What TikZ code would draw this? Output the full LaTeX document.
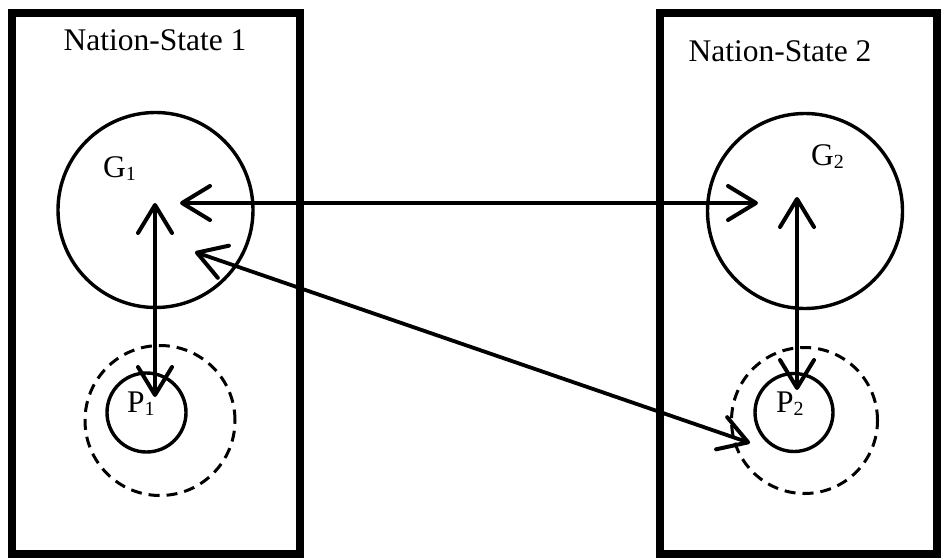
\documentclass[tikz,border=0pt]{standalone}
\usepackage{fontspec}
\setmainfont{Liberation Serif}
\usetikzlibrary{arrows.meta}
\newcommand{\mysub}[1]{\raisebox{-3.5pt}{\fontsize{20}{24}\selectfont #1}}
\tikzset{
  nationbox/.style={draw=black, line width=8pt},
  circ/.style={circle, draw=black, line width=3.4pt, inner sep=0pt},
  dcirc/.style={circle, draw=black, line width=3pt, dash pattern=on 11pt off 7pt, inner sep=0pt},
  lbl/.style={inner sep=0pt, font=\fontsize{31.5}{38}\selectfont},
  biarrow/.style={line width=3.8pt, arrows={Straight Barb[length=28pt,width=34pt,round,line width=4pt]-Straight Barb[length=28pt,width=34pt,round,line width=4pt]}}
}
\begin{document}
\begin{tikzpicture}[x=1pt, y=-1pt]
\useasboundingbox (0,0) rectangle (941,559);
% boxes
\node[nationbox, minimum width=288pt, minimum height=540.5pt, inner sep=0pt] (B1) at (156,283.75) {};
\node[nationbox, minimum width=277pt, minimum height=540.5pt, inner sep=0pt] (B2) at (798.5,283.75) {};
\node[lbl, anchor=base] (T1) at (155,51) {Nation-State 1};
\node[lbl, anchor=base] (T2) at (780,61.5) {Nation-State 2};
% circles
\node[circ, minimum size=195pt] (G1) at (155.5,210) {};
\node[circ, minimum size=195pt] (G2) at (805,211) {};
\node[dcirc, minimum size=150pt] (D1) at (160,420.5) {};
\node[dcirc, minimum size=146pt] (D2) at (804.5,420.5) {};
\node[circ, minimum size=79pt] (P1) at (146.5,412.5) {};
\node[circ, minimum size=78pt] (P2) at (794,412.5) {};
% labels
\node[lbl, anchor=base west] (LG1) at (103,177) {G\mysub{1}};
\node[lbl, anchor=base west] (LG2) at (811,165) {G\mysub{2}};
\node[lbl, anchor=base west] (LP1) at (127,412) {P\mysub{1}};
\node[lbl, anchor=base west] (LP2) at (776,412) {P\mysub{2}};
% arrow end points
\coordinate (g1top) at (155,203);
\coordinate (p1top) at (155,397);
\coordinate (g1h) at (180,203);
\coordinate (g2h) at (758,203);
\coordinate (g2top) at (797,197);
\coordinate (p2top) at (797,390);
\coordinate (g1d) at (195,252);
\coordinate (p2d) at (750,443);
% arrows
\draw[biarrow] (g1top) -- (p1top);
\draw[biarrow] (g1h) -- (g2h);
\draw[biarrow] (g2top) -- (p2top);
\draw[biarrow] (g1d) -- (p2d);
\end{tikzpicture}
\end{document}
